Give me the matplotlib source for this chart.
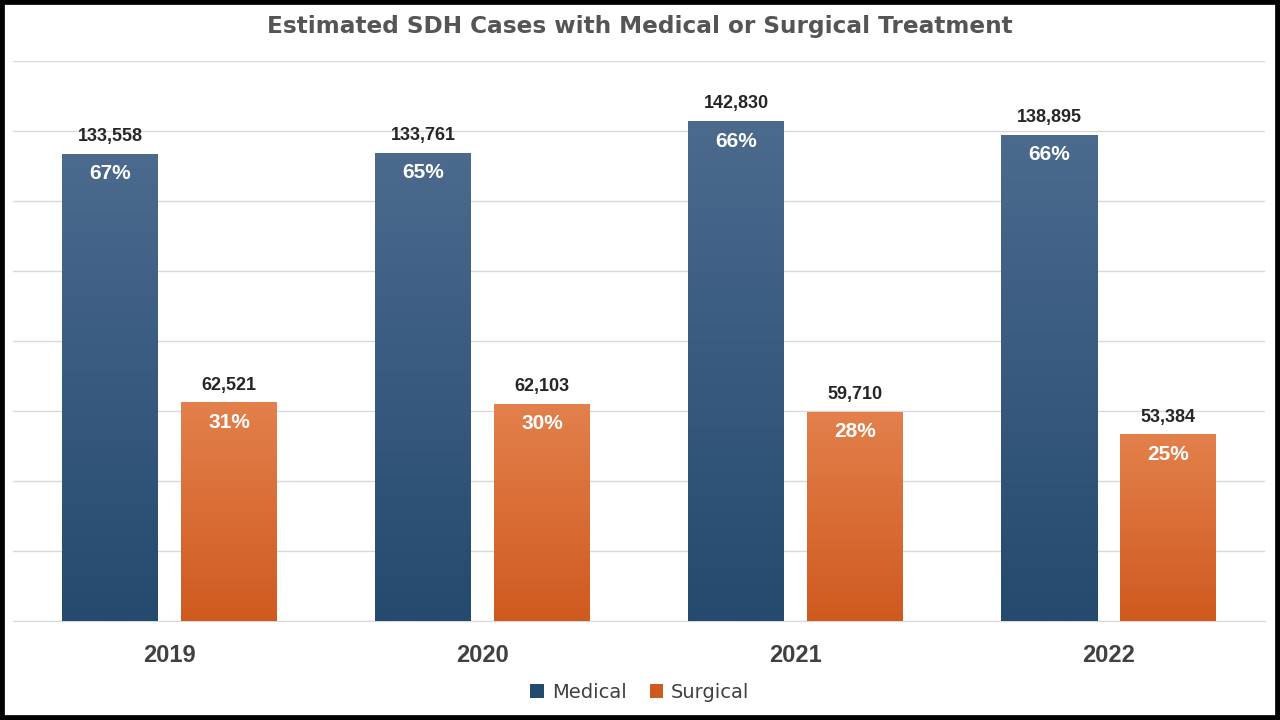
import numpy as np
import matplotlib.pyplot as plt
from matplotlib.colors import LinearSegmentedColormap
from matplotlib.patches import Rectangle

years = ["2019", "2020", "2021", "2022"]
medical = [133558, 133761, 142830, 138895]
surgical = [62521, 62103, 59710, 53384]
medical_pct = ["67%", "65%", "66%", "66%"]
surgical_pct = ["31%", "30%", "28%", "25%"]

blue_top, blue_bottom = "#4b6a8e", "#244a6e"
orange_top, orange_bottom = "#e3804c", "#cf5a1f"
arial = "Liberation Sans"

fig = plt.figure(figsize=(12.8, 7.2), dpi=100)
ax = fig.add_axes([13 / 1280, 1 - 621 / 720, 1252 / 1280, 560 / 720])

x = np.arange(len(years))
w = 96 / 313
off = 59.5 / 313

def gradient_bars(bars, top, bottom):
    cmap = LinearSegmentedColormap.from_list("g", [bottom, top])
    grad = np.linspace(0, 1, 256).reshape(-1, 1)
    for b in bars:
        x0, y0 = b.get_x(), b.get_y()
        x1, y1 = x0 + b.get_width(), y0 + b.get_height()
        im = ax.imshow(grad, cmap=cmap, origin="lower", aspect="auto",
                       extent=[x0, x1, y0, y1], zorder=3)
        im.set_clip_path(b)

bm = ax.bar(x - off, medical, w, color=blue_bottom, zorder=2, label="Medical")
bs = ax.bar(x + off, surgical, w, color=orange_bottom, zorder=2, label="Surgical")
gradient_bars(bm, blue_top, blue_bottom)
gradient_bars(bs, orange_top, orange_bottom)

for pos, vals, pcts in [(x - off, medical, medical_pct), (x + off, surgical, surgical_pct)]:
    for xi, v, p in zip(pos, vals, pcts):
        ax.text(xi, v + 4900, f"{v:,}", ha="center", va="center", fontsize=13,
                family=arial, fontweight="bold", color="#262626", zorder=5)
        ax.text(xi, v - 5700, p, ha="center", va="center", fontsize=15,
                family=arial, fontweight="bold", color="white", zorder=5)

ax.set_xlim(-0.5, 3.5)
ax.set_ylim(0, 160000)
ax.set_yticks(np.arange(0, 160001, 20000))
ax.yaxis.grid(True, color="#d9d9d9", linewidth=1)
ax.set_axisbelow(True)
ax.tick_params(axis="y", left=False, labelleft=False)
ax.tick_params(axis="x", bottom=False, pad=13)
ax.set_xticks(x)
ax.set_xticklabels(years, fontsize=17, fontweight="bold", color="#404040", family=arial)
for s in ["top", "right", "left"]:
    ax.spines[s].set_visible(False)
ax.spines["bottom"].set_color("#d9d9d9")

fig.text(0.5, 1 - 27 / 720, "Estimated SDH Cases with Medical or Surgical Treatment",
         ha="center", va="center", fontsize=16.7, fontweight="bold", color="#555555")

ax.legend(loc="center", bbox_to_anchor=(0.5, 1 - 692 / 720), bbox_transform=fig.transFigure,
          ncol=2, frameon=False, fontsize=14, handlelength=0.7, handleheight=0.7,
          columnspacing=1.2, handletextpad=0.4, labelcolor="#404040")

fig.patches.append(Rectangle((0, 0), 1, 1, transform=fig.transFigure, fill=False,
                             edgecolor="black", linewidth=7))

fig.savefig("out.png", dpi=100)
